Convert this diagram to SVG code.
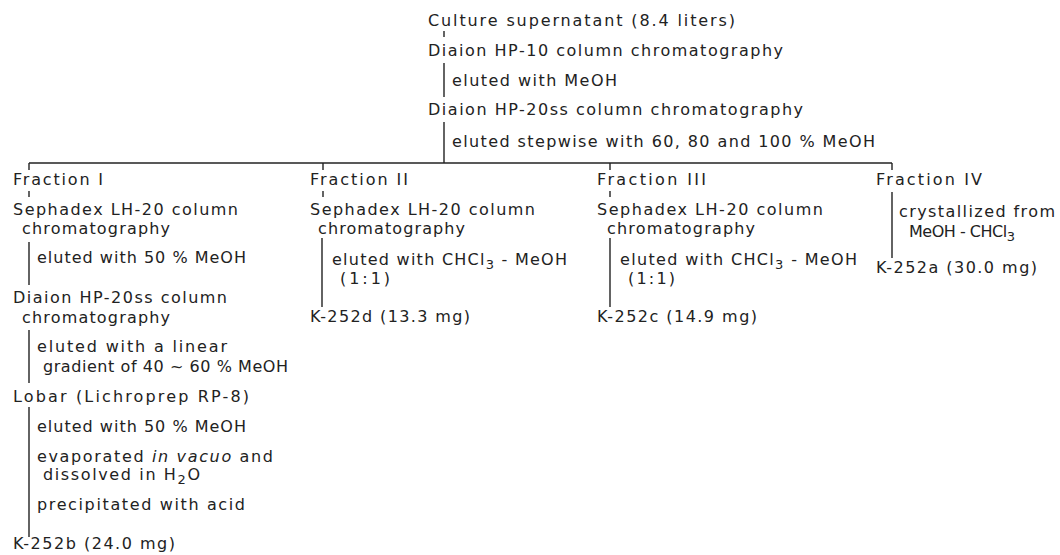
<svg xmlns="http://www.w3.org/2000/svg" width="1060" height="555" viewBox="0 0 1060 555">
<style>
text{font-family:"DejaVu Sans","Liberation Sans",sans-serif;font-size:16px;fill:#222}
.it{font-style:italic}
#connectors line{stroke:#222;stroke-width:1.4;fill:none}
</style>
<rect width="1060" height="555" fill="#fff"/>
<g id="connectors">
<line x1="444" y1="31" x2="444" y2="37"/>
<line x1="444" y1="63" x2="444" y2="97"/>
<line x1="444" y1="122" x2="444" y2="163"/>
<line x1="29" y1="163" x2="892" y2="163"/>
<line x1="29" y1="163" x2="29" y2="170"/>
<line x1="323" y1="163" x2="323" y2="170"/>
<line x1="610" y1="163" x2="610" y2="170"/>
<line x1="892" y1="163" x2="892" y2="170"/>
<line x1="29" y1="191" x2="29" y2="197"/>
<line x1="29" y1="242" x2="29" y2="285"/>
<line x1="29" y1="330" x2="29" y2="383"/>
<line x1="29" y1="407" x2="29" y2="537"/>
<line x1="323" y1="191" x2="323" y2="197"/>
<line x1="322" y1="238" x2="322" y2="307"/>
<line x1="610" y1="191" x2="610" y2="197"/>
<line x1="610" y1="238" x2="610" y2="307"/>
<line x1="892" y1="192" x2="892" y2="258"/>
<text x="452" y="86" textLength="165" lengthAdjust="spacing">eluted with MeOH</text>
<text x="452" y="147" textLength="423" lengthAdjust="spacing">eluted stepwise with 60, 80 and 100 % MeOH</text>
<text x="37" y="263" textLength="209" lengthAdjust="spacing">eluted with 50 % MeOH</text>
<text x="37" y="352" textLength="190" lengthAdjust="spacing">eluted with a linear</text>
<text x="43" y="372" textLength="245" lengthAdjust="spacing">gradient of 40 ~ 60 % MeOH</text>
<text x="37" y="432" textLength="209" lengthAdjust="spacing">eluted with 50 % MeOH</text>
<text x="37" y="462" textLength="236" lengthAdjust="spacing">evaporated <tspan class="it">in vacuo</tspan> and</text>
<text x="43" y="480" textLength="157" lengthAdjust="spacing">dissolved in H<tspan dy="4" font-size="13">2</tspan><tspan dy="-4">O</tspan></text>
<text x="37" y="510" textLength="208" lengthAdjust="spacing">precipitated with acid</text>
<text x="332" y="265" textLength="235" lengthAdjust="spacing">eluted with CHCl<tspan dy="4" font-size="13">3</tspan><tspan dy="-4"> - MeOH</tspan></text>
<text x="340" y="284" textLength="50" lengthAdjust="spacing">(1:1)</text>
<text x="620" y="265" textLength="237" lengthAdjust="spacing">eluted with CHCl<tspan dy="4" font-size="13">3</tspan><tspan dy="-4"> - MeOH</tspan></text>
<text x="628" y="284" textLength="47" lengthAdjust="spacing">(1:1)</text>
<text x="899" y="217" textLength="156" lengthAdjust="spacing">crystallized from</text>
<text x="909" y="237" textLength="106" lengthAdjust="spacing">MeOH - CHCl<tspan dy="4" font-size="13">3</tspan></text>
</g>
<g id="culture"><text x="428" y="26" textLength="307" lengthAdjust="spacing">Culture supernatant (8.4 liters)</text></g>
<g id="hp10"><text x="428" y="56" textLength="355" lengthAdjust="spacing">Diaion HP-10 column chromatography</text></g>
<g id="hp20ss"><text x="428" y="115" textLength="375" lengthAdjust="spacing">Diaion HP-20ss column chromatography</text></g>
<g id="fraction1"><text x="13" y="185" textLength="90" lengthAdjust="spacing">Fraction I</text></g>
<g id="sephadex1"><text x="13" y="215" textLength="225" lengthAdjust="spacing">Sephadex LH-20 column</text><text x="22" y="234" textLength="148" lengthAdjust="spacing">chromatography</text></g>
<g id="hp20ss1"><text x="13" y="303" textLength="214" lengthAdjust="spacing">Diaion HP-20ss column</text><text x="22" y="323" textLength="148" lengthAdjust="spacing">chromatography</text></g>
<g id="lobar"><text x="13" y="402" textLength="236" lengthAdjust="spacing">Lobar (Lichroprep RP-8)</text></g>
<g id="k252b"><text x="13" y="549" textLength="162" lengthAdjust="spacing">K-252b (24.0 mg)</text></g>
<g id="fraction2"><text x="310" y="185" textLength="98" lengthAdjust="spacing">Fraction II</text></g>
<g id="sephadex2"><text x="310" y="215" textLength="225" lengthAdjust="spacing">Sephadex LH-20 column</text><text x="318" y="234" textLength="147" lengthAdjust="spacing">chromatography</text></g>
<g id="k252d"><text x="310" y="322" textLength="160" lengthAdjust="spacing">K-252d (13.3 mg)</text></g>
<g id="fraction3"><text x="597" y="185" textLength="109" lengthAdjust="spacing">Fraction III</text></g>
<g id="sephadex3"><text x="597" y="215" textLength="226" lengthAdjust="spacing">Sephadex LH-20 column</text><text x="607" y="234" textLength="148" lengthAdjust="spacing">chromatography</text></g>
<g id="k252c"><text x="597" y="322" textLength="160" lengthAdjust="spacing">K-252c (14.9 mg)</text></g>
<g id="fraction4"><text x="876" y="185" textLength="106" lengthAdjust="spacing">Fraction IV</text></g>
<g id="k252a"><text x="876" y="273" textLength="161" lengthAdjust="spacing">K-252a (30.0 mg)</text></g>
</svg>
